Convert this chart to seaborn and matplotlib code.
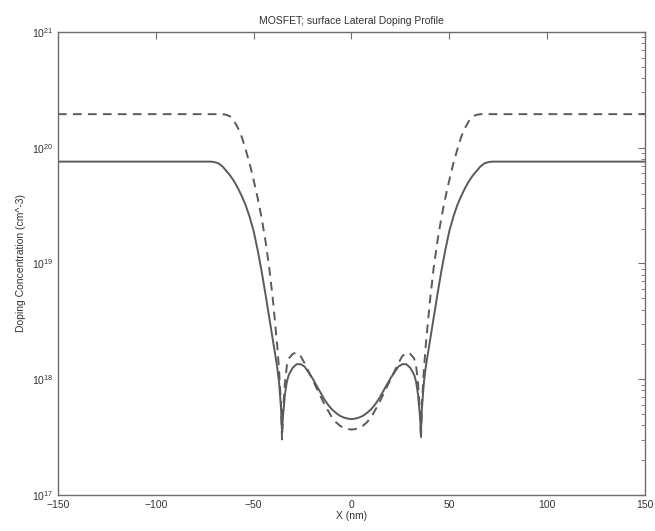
import numpy as np
import pandas as pd
import matplotlib
matplotlib.use("Agg")
import matplotlib.pyplot as plt
import seaborn as sns
from matplotlib.ticker import LogLocator, FixedLocator, NullLocator

# position along the surface (nm)
x_nm = [-150, -72, -70, -68, -66, -64, -62, -60, -58, -56, -54, -52, -50, -48, -46, -44,
        -42, -40, -38, -37, -36, -35.5, -35, -34, -33, -32, -30, -28, -26, -24, -22, -20,
        -18, -16, -14, -12, -10, -8, -6, -4, -2, 0,
        2, 4, 6, 8, 10, 12, 14, 16, 18, 20, 22, 24, 26, 28, 30, 32, 33, 34, 35, 35.5, 36,
        37, 38, 40, 42, 44, 46, 48, 50, 52, 54, 56, 58, 60, 62, 64, 66, 68, 70, 72, 150]

# log10 of doping concentration (cm^-3), solid curve
solid_log = [19.88, 19.88, 19.876, 19.865, 19.84, 19.80, 19.76, 19.71, 19.65, 19.58, 19.50, 19.40,
             19.28, 19.12, 18.94, 18.74, 18.53, 18.32, 18.11, 17.97, 17.75, 17.54, 17.68, 17.87,
             17.98, 18.04, 18.10, 18.13, 18.13, 18.11, 18.06, 18.01, 17.95, 17.89, 17.83, 17.78,
             17.74, 17.71, 17.685, 17.67, 17.66, 17.655,
             17.66, 17.67, 17.685, 17.71, 17.74, 17.78, 17.83, 17.89, 17.95, 18.01, 18.06, 18.11,
             18.13, 18.13, 18.10, 18.04, 17.98, 17.87, 17.68, 17.54, 17.75, 17.97, 18.11, 18.32,
             18.53, 18.74, 18.94, 19.12, 19.28, 19.40, 19.50, 19.58, 19.65, 19.71, 19.76, 19.80,
             19.84, 19.865, 19.876, 19.88, 19.88]

# log10 of doping concentration (cm^-3), dashed curve
dashed_log = [20.29, 20.29, 20.29, 20.29, 20.29, 20.285, 20.27, 20.23, 20.17, 20.09, 19.98, 19.86,
              19.72, 19.57, 19.40, 19.20, 18.96, 18.66, 18.30, 18.08, 17.78, 17.48, 17.72, 17.97,
              18.12, 18.18, 18.22, 18.23, 18.20, 18.14, 18.07, 18.00, 17.93, 17.86, 17.79, 17.73,
              17.67, 17.63, 17.60, 17.58, 17.57, 17.565,
              17.57, 17.58, 17.60, 17.63, 17.67, 17.73, 17.79, 17.86, 17.93, 18.00, 18.07, 18.14,
              18.20, 18.23, 18.22, 18.18, 18.12, 17.97, 17.72, 17.48, 17.78, 18.08, 18.30, 18.66,
              18.96, 19.20, 19.40, 19.57, 19.72, 19.86, 19.98, 20.09, 20.17, 20.23, 20.27, 20.285,
              20.29, 20.29, 20.29, 20.29, 20.29]

x_ticks = [-150, -100, -50, 0, 50, 100, 150]

sns.set_style("white")
plt.rcParams['font.family'] = ['Liberation Sans', 'DejaVu Sans']
plt.rcParams['mathtext.fontset'] = 'custom'
plt.rcParams['mathtext.rm'] = 'Liberation Sans'
plt.rcParams['mathtext.it'] = 'Liberation Sans'

df = pd.DataFrame({
    "x": x_nm,
    "solid": 10.0 ** np.array(solid_log),
    "dashed": 10.0 ** np.array(dashed_log),
})

fig = plt.figure(figsize=(6.55, 5.31), dpi=100)
ax = fig.add_axes([0.0885, 0.0678, 0.8962, 0.872])

line_col = "#5a5a5a"
sns.lineplot(data=df, x="x", y="solid", ax=ax, color=line_col, lw=1.4,
             sort=False, estimator=None)
sns.lineplot(data=df, x="x", y="dashed", ax=ax, color=line_col, lw=1.4,
             sort=False, estimator=None, linestyle=(0, (4.5, 3.2)))

ax.set_yscale("log")
ax.set_xlim(-150, 150)
ax.set_ylim(1e17, 1e21)
ax.xaxis.set_major_locator(FixedLocator(x_ticks))
ax.xaxis.set_minor_locator(NullLocator())
ax.yaxis.set_major_locator(LogLocator(base=10, numticks=10))
ax.yaxis.set_minor_locator(LogLocator(base=10, subs=np.arange(2, 10), numticks=10))

text_col = "#333333"
spine_col = "#6e6e6e"
for s in ax.spines.values():
    s.set_color(spine_col)
    s.set_linewidth(1.0)
    s.set_visible(True)

ax.tick_params(which="both", direction="in", top=True, right=True,
               color=spine_col, labelcolor=text_col, labelsize=7.5)
ax.tick_params(which="major", length=5, width=0.8)
ax.tick_params(which="minor", length=2.8, width=0.6)

ax.set_title("MOSFET; surface Lateral Doping Profile", fontsize=7.5, color=text_col, pad=6)
ax.set_xlabel("X (nm)", fontsize=7.5, color=text_col, labelpad=1)
ax.set_ylabel("Doping Concentration (cm^-3)", fontsize=7.5, color=text_col, labelpad=4)

fig.savefig("out.png", dpi=100)
